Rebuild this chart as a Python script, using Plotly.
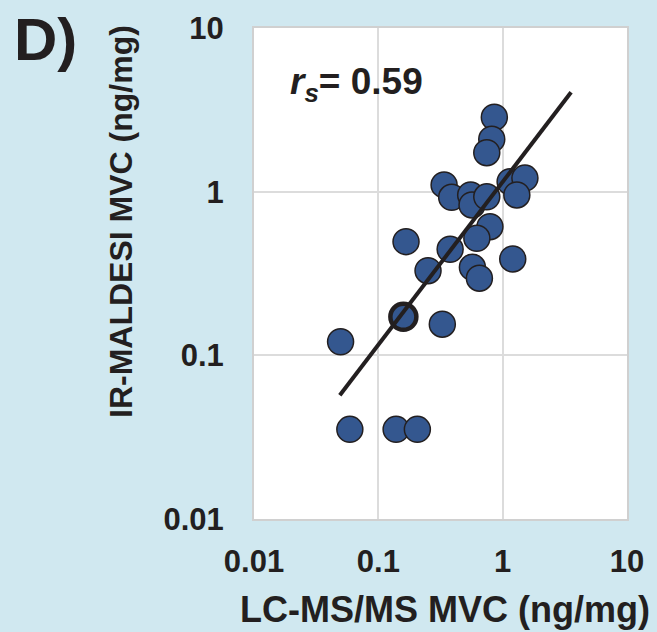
import plotly.graph_objects as go

# Data (ng/mg)
lcms_mvc = [0.857, 0.817, 0.745, 0.338, 0.389, 0.553, 0.567, 0.745, 1.148, 1.51,
            1.30, 0.79, 0.62, 0.167, 0.378, 0.251, 0.571, 0.65, 1.205, 0.327,
            0.0497, 0.059, 0.139, 0.206]
maldesi_mvc = [2.85, 2.09, 1.73, 1.10, 0.924, 0.955, 0.83, 0.93, 1.15, 1.21,
               0.955, 0.611, 0.519, 0.495, 0.445, 0.329, 0.345, 0.296, 0.388, 0.155,
               0.121, 0.0353, 0.0353, 0.0353]
highlight_x = [0.159]
highlight_y = [0.172]
trend_x = [0.049, 3.55]
trend_y = [0.057, 4.05]
tick_vals = [0.01, 0.1, 1, 10]
tick_text = ["0.01", "0.1", "1", "10"]
rs_label = "0.59"

DARK = "#231f20"
BLUE = "#34578f"
BG = "#d0e8f0"
GRID = "#dcdcdc"
FONT = "Liberation Sans"

fig = go.Figure()
fig.add_trace(go.Scatter(x=lcms_mvc, y=maldesi_mvc, mode="markers",
                         marker=dict(size=26, color=BLUE, line=dict(color=DARK, width=1.5)),
                         showlegend=False))
fig.add_trace(go.Scatter(x=highlight_x, y=highlight_y, mode="markers",
                         marker=dict(size=26, color=BLUE, line=dict(color=DARK, width=4.5)),
                         showlegend=False))
fig.add_trace(go.Scatter(x=trend_x, y=trend_y, mode="lines",
                         line=dict(color=DARK, width=4), showlegend=False))

axis_common = dict(type="log", range=[-2, 1], tickvals=tick_vals, ticktext=tick_text,
                   showgrid=True, gridcolor=GRID, gridwidth=1.5, zeroline=False,
                   showline=True, linecolor="#d0d0d0", linewidth=2, mirror=True,
                   ticks="", tickfont=dict(family=FONT, size=31, color=DARK, weight="bold"))

fig.update_xaxes(**axis_common, ticklabelstandoff=14)
fig.update_yaxes(**axis_common, ticklabelstandoff=22)

fig.update_layout(
    width=657, height=632, autosize=False,
    margin=dict(l=254, r=30, t=28, b=113),
    paper_bgcolor=BG, plot_bgcolor="white",
    font=dict(family=FONT, color=DARK),
    annotations=[
        dict(text="<b>LC-MS/MS MVC (ng/mg)</b>", xref="paper", yref="paper",
             x=(445 - 254) / 373, y=-(609 - 519) / 491, xanchor="center", yanchor="middle",
             showarrow=False, font=dict(family=FONT, size=36, color=DARK)),
        dict(text="<b>IR-MALDESI MVC (ng/mg)</b>", xref="paper", yref="paper",
             x=(121 - 254) / 373, y=1 - (222 - 28) / 491, xanchor="center", yanchor="middle",
             textangle=-90, showarrow=False, font=dict(family=FONT, size=32, color=DARK)),
        dict(text="<b>D)</b>", xref="paper", yref="paper",
             x=(12 - 254) / 373, y=1 - (40 - 28) / 491, xanchor="left", yanchor="middle",
             showarrow=False, font=dict(family=FONT, size=60, color=DARK)),
        dict(text="<b><i>r<sub>s</sub></i>= " + rs_label + "</b>", xref="paper", yref="paper",
             x=(288 - 254) / 373, y=1 - (84 - 28) / 491, xanchor="left", yanchor="middle",
             showarrow=False, font=dict(family=FONT, size=37, color=DARK)),
    ],
)

fig.write_html("out.html", config={"displayModeBar": False},
               post_script="document.body.style.margin='0';")
